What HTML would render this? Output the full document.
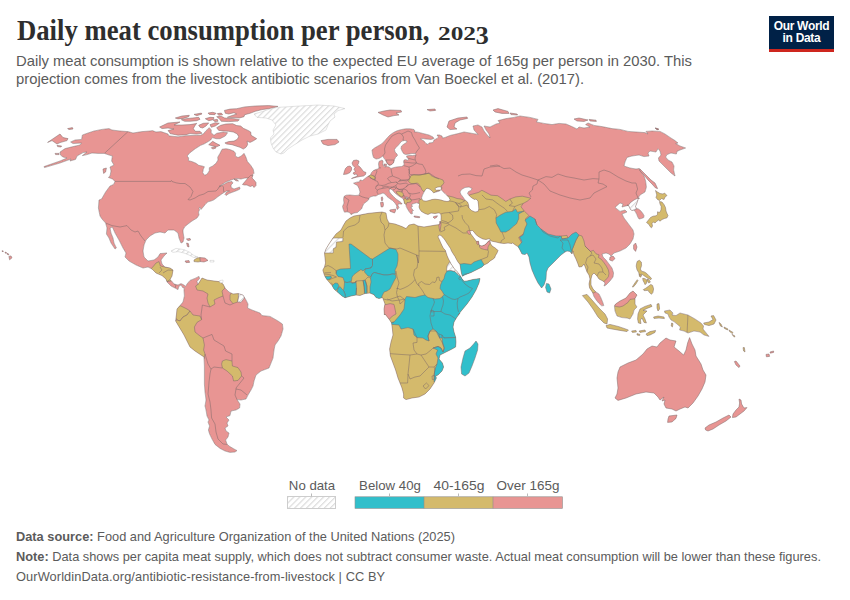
<!DOCTYPE html>
<html lang="en">
<head>
<meta charset="utf-8">
<title>Daily meat consumption per person, 2023</title>
<style>
  html,body{margin:0;padding:0;background:#fff;}
  body{width:850px;height:600px;position:relative;overflow:hidden;font-family:"Liberation Sans",sans-serif;}
  .abs{position:absolute;white-space:nowrap;}
  .ttl{top:13.7px;font-family:"Liberation Serif",serif;font-weight:bold;font-size:28.5px;line-height:34px;color:#2e2e2e;transform-origin:0 0;}
  #title{left:16.5px;transform:scaleX(0.9365);}
  #title2{left:437.5px;top:16.9px;font-size:19.5px;transform:scaleX(1.3);}
  #title2 span{display:inline-block;position:relative;top:4px;font-size:25px;line-height:25px;transform:scaleX(0.8);transform-origin:0 0;}
  #sub{left:16px;top:52.3px;font-size:14.8px;line-height:18px;color:#5b5b5b;}
  #logo{left:769px;top:16px;width:65px;height:33px;background:#002147;border-bottom:3px solid #ce261e;color:#fff;font-weight:bold;font-size:12px;line-height:12px;text-align:center;letter-spacing:-0.3px;}
  #logo span{display:block;}
  #logo span:first-child{margin-top:4.3px;}
  .foot{left:16px;font-size:12.8px;line-height:16px;color:#5b5b5b;}
  .foot b{font-weight:bold;}
  .leg{font-size:13px;line-height:14px;color:#5b5b5b;text-align:center;}
  svg{position:absolute;left:0;top:0;}
</style>
</head>
<body>
<div id="title" class="abs ttl">Daily meat consumption per person,</div>
<div id="title2" class="abs ttl">202<span>3</span></div>
<div id="sub" class="abs">Daily meat consumption is shown relative to the expected EU average of 165g per person in 2030. This<br>projection comes from the livestock antibiotic scenarios from Van Boeckel et al. (2017).</div>
<div id="logo" class="abs"><span>Our World</span><span>in Data</span></div>
<svg width="850" height="600" viewBox="0 0 850 600">
<defs><pattern id="hatch" width="4.2" height="4.2" patternUnits="userSpaceOnUse" patternTransform="rotate(45)"><rect width="4.2" height="4.2" fill="#fff"/><rect width="1.15" height="4.2" fill="#dbdbdb"/></pattern>
<clipPath id="c0"><path clip-rule="evenodd" d="M101.6,199 105.6,192 110,186 113.6,184.4 115,181.4 112.4,179 108.4,177.4 110,176 111,171 110,167 114,165 111.6,161 112.4,156 109,155 104.4,153.4 98,153.4 92,153 87,154.6 82.4,155.6 87,152 83,152.6 77,156 75.6,159.4 70,161 71,159 60,163 44.4,167.6 44,166.6 60,161 67,158 63,157 60.4,155 60,152 65,148.6 73,146.6 80,145 81.6,143 73,143.6 70.6,142 75,140 81.6,139.4 82.4,135 88,133 94,131 102,129.4 109,128.6 112,130 120,131 128,131.6 133,133 142,131.6 150,131 152.4,130.6 156,132 161,131.6 168,134 169,136 170,136 178,136.8 186,135.7 196.7,135.3 200.4,135.3 203.3,134 206,130.7 209.3,127.7 211.3,130 211.1,132.7 214,135.3 216.7,133.3 223.3,132 227.6,132.7 225.3,136 220,138.7 216,138.7 212.4,137.6 210.7,140 208.7,141.3 204,144 200.7,145.3 195.3,148.7 190,152.7 187.1,156 188.7,158 188.4,160.7 192,161.6 196,163.3 198.7,165.3 202,166 204.4,166.7 203.3,169.3 202.7,172.7 204.7,175.3 207.3,174 209.3,170.7 209.3,167.7 212.7,166 216,163.3 218,160 217.7,157.3 220,153.3 222,149.3 226,148.7 230,149.6 234,151.3 235.6,153.3 235.3,156 238,157.6 241.3,156 244,153.3 246,157.3 247.3,161.3 250.7,165.3 253.3,169.3 254,173.3 251.3,176 250,178 245,178 241,179 237,178.5 234,179 231,180 228,181 225,182.5 222,184.5 219,186.5 221.5,185.5 224.5,184 228,182 232,181.5 233,183 231,185 231.2,187.5 234,189 237,188 239.5,187 240,189 237,190.5 233,192 229,193.5 226,195.5 225,194.5 226.5,192 229.5,191 226.5,191 224,192.5 221,194.5 217.5,197 215,199 213.5,200 211,201 208,201.8 206,203.5 204,206 201,209.5 200,207 199,208 199.5,210 198.5,212 199,215 197,218 192,221 188,224 184.5,227 183,230 183,232 184,238 183,242 181,243 179,238 178,233 174,230 168,230 165,233 160,232 155,233 150,236 146,240 144,245 143,251 144,257 148,261 154,260 158,257 160,253.6 167,253 164,256 161,260 162,264 165,267 170,268 173,270 172,276 170,279.6 171.6,281 174,284 178,285 181,283.6 184,285 185.6,286.4 187,284 190,280.4 195,278.4 199,276.4 199.6,278.4 197,281.6 198,284.4 202,278 207,280 214,281 219,281.6 223,284 225,288 229,292 233,294 238,293.6 243,295 246,300 248,304 247.6,308 252,310 260,313 262,315.6 270,316.4 278,321 282.4,324 283,329 281,336 278,341 275,345 274,350 273,358 271,363 269,368 261,371 256,375 254,381 253,386 251,390 248,395 246,399 241,400 237,399.6 240,404 239.6,408 236,410 231,411 230,415.6 226,417 229,420 227,423 228,426 225,428 226,431 229,433 228,437 225.6,440 227,444 229,446 234,449 237,450.6 235,452 230,452.4 225,451 220,448.4 215,444.4 212,439 209.6,434 208.4,430 209.6,426 208,422 209,420 207,416 206,410 205,406 206,400 205,392 204.4,384 204.4,370 204.4,366 204,357 201,355 195,351 190,347 187,341 184,335 181,330 178,325 175.6,321 176.4,315 177,309 180,305.6 183,302 184.4,296 184,290 184.4,287.6 183,288 181,285 179,286 178,289.6 175,288 171,286 167,282 166,279 162,275.6 156,273 152,269 148,267 143,268 136,265 129,261 125,257 126,253 123,248 119,240 115,233 112.4,227 110,228 111,233 113,238 114,243 116.4,248 115,249 111,243 109,238 106.4,234 107,228 105.6,223 102,219 100,216 98.4,208 99,200Z"/></clipPath>
<clipPath id="c1"><path clip-rule="evenodd" d="M343.5,210 342.5,206.5 344,203 343.5,199.5 344,196.5 346,195.2 350,195 355,195.5 359,195.2 360,192 359,188.5 357.5,185.5 355,184.2 353.5,183.2 356.5,182.2 359.5,181.8 360,180 362.5,180.5 365,178.5 367,177 368.5,176 370.5,175 371.5,172.5 373.5,170.5 376,169.5 377.5,169 379,168 378.5,164 379,161.5 382,160 383,161 382.8,164 383.5,166 385,167 386.5,166.5 389,167 391,168.5 394,167.5 398,166.8 401.5,166.5 403.5,165.5 404.2,164 403.5,162 404,160 406,159.5 407.5,160.5 408.5,159 407,157.5 406.5,156 409,155.5 412.5,155.5 416,155 415.5,153.5 412,153.5 408,154.2 405.5,154.5 403.5,153.5 402,151 401,148.5 401.5,146 404,144 406.5,142.5 407,141 404.5,140.5 402,141 400,143 398.5,145 396,147.5 394.5,149.5 395,152 397,154 397.5,155.5 395.5,157.5 394.5,159.5 393.5,162 392,164 389.5,165.5 387.5,164 386.5,162 385,159.5 383.5,157.5 382.8,156 381.5,157 379,158.5 376,159 373.5,157.5 372.5,154 372,150 374.5,148 378,146 381.5,144 384.5,141 387.5,137.5 390,135 393.5,132.5 397,130.8 401.5,129.5 406,128.8 410,128.8 414,129.5 415,131 414,131.8 418,132.2 423,133.5 429,135 433,137 434,138.5 431,139.5 426,139 422,138.5 420.5,139 424,141 426,143.5 428,144.5 429,143 433,142.5 434,140 437,138.5 438.5,137 437,135 439.5,135 442,136 442.5,138 445,137.5 450,135.5 452,135 458,133.6 464,132 470,133 478,134.4 474,130 473,126 478,125 482,127 484,131 488,136 490,138 489,134 486,130 484,126 490,127 496,124 500,123 498,120.6 506,118.6 514,117.4 520,116 530,117.4 538,119.4 536.4,122 544,123.4 552,124.6 559,123.4 566,124 572,126.6 577,129 579,127 584,128 590,127 585.6,124.6 588,123 594,125.4 602,126.6 612,128.6 620,129.4 628,131.4 636,132 645,132.6 648,134 646,131.4 652,131 660,131.4 665,134 670,137.4 675,140.6 678,143 675.6,143.6 680,146 685.6,148 680,150 677,151.4 676.4,154 671,153 667,154.6 665.6,157 668,160 672,162 674,166 673.6,170 675,176 671,173 667,169 663,165 659,161 658.4,158 661,155 660,151 658,148.6 656,152 650,151 648,153 649,156 644,156.6 639,155 632,156 627,157.4 625,162 624,166 630,168 636,169 639,168.6 641,172 644,176 645.6,181 646.4,187 645,192 640,195 638,198 639.5,198 638,199.5 637.5,201.5 636.5,204 635.5,206.5 636.5,208.5 638.5,209 640.5,210.5 642.5,213 644,215.5 643.8,217.5 641.5,218.5 639,219 637.8,217 636.8,214.5 635.5,212 634,210 632,210.5 630.5,209.5 629.5,207.5 628.5,205.5 627,205 628,205.4 622,207 623,204 620,203 615,207.4 620,211.4 625,210 627,212 622,214 624,218 627,222 630,226 633,230 634,234 633,239 630,244 626,248 620,251 614,253 611,256 609,254 606,253 602,254 603,257 606,260 609,264 612,268 613.6,273 613,277 610,281 606,285 604,286 605,283 603,281 599,279 597,276 594,273 592,275 591,279 591,285 593,289 596,292 599,294 601,298 603,303 603.8,305.6 601.6,305.8 598.8,303.2 596,299.8 593.8,296.2 592.8,293 591.6,291 589.6,288 589,284 590,279 589,275 587,272 585.6,268 584,264 582,266.6 579,267 578,264 576,259 574,255 573,251 572,254 570,251.4 567,251 565,252 561,255 557,259 552,264 548,268 546.4,272 546,279 544,285 541.6,288 538,283 535,277 532,270 530,263 529,257 527,253 525,254.6 522,254 520,250 518,246.6 515.7,245.2 512.4,242.8 512,243.5 508,243 504,243.5 500,243 495,241.8 492,241.2 490.5,240.5 490,239 488.5,238.8 486,239.5 483,239 480,237.5 477.5,236 475.5,234 474,232 472.5,230.5 470,230.8 470,231.5 470.5,233.5 472,235.5 473.5,237.5 475,239.5 476,241.2 477,241.5 478.5,241.2 479,244 479.5,245.5 482,246 484.5,245 486.5,243.5 488,241.5 489.5,240.5 490,241.2 490.5,243.5 492,246 494.5,247.5 496.5,249 498,250.5 497,253 495.5,255.5 494.5,258 492.5,259.5 490,261 488,263 486,264 484,265 482,267 478,269 474,271 471,272.5 467,274 464.5,275 462.5,276.2 461.8,274.5 461,271 460.5,267 460,264.5 458,262 456.5,259.5 455,256.5 453,253.5 451.5,251 450.5,248.5 448.5,245.5 446.5,242.5 445,240 443,237.5 441.2,235.8 440,235 438.5,235.5 438,237 439.5,240 440.8,243 442.2,246 443.5,248.5 445.2,250 446.2,253 447.2,256 448.5,259 450,261.8 450.5,263 452.5,266 454.5,269 457,271.5 459,274 460.5,276.2 461.8,278.5 464,281.2 467,281 473,279.5 480,278.5 479,283 476,290 472,297 467,304 462,310 458,315 460,313 457,317 454,322 453,327 454,332 455.6,337 456,342 455.6,347 452,349 446,352 440,355 439,359 442.4,363 443.6,367 442,371 438,375 435.6,376 436.4,378 434,383 430,389 425,394 419,397 412,398 406,399.6 403.6,398 403.6,394 402,388 400,383 398,378 395.6,370 393,363 390.4,356 389.6,349 391,342 393,335 392.4,329 391.6,323 389,319 385,314 384.4,315 384,309 385,304 383.5,300 382.5,297.5 379,298.5 376,297.5 374,294.8 370,293 365,293.5 360,295.5 356,295 351,296 345,297.8 342,296 338,292.5 334,289 332,285.5 329,282 326.5,279 325,276.5 324,274 322.8,270 324.5,267 325.5,263 325,258 324.5,253 326,249 329,244 333,238 336,234 341,230 343.6,225 346,221 350,218 354,216 360,215 368,213.4 376,212.6 382,212 386,213 387,219 389,223 395,224 402,226.6 406,228.6 409,225 414,224 418,226 424,227 430,226 436,225 439.6,224.6 440,221 440.5,223.5 441,220.5 441.2,217 440.8,214 439,212.8 435,213.5 431,213 428,214.5 425,213.5 421.5,211.5 420,209.5 419,207 419.5,204.5 419,203.5 416.5,202.8 414,203.5 411.5,204.5 412.5,206.5 411,207 412,209 413.5,210.5 412,211 412.5,213.5 411,214 409,211.5 407.5,209 406.2,206.5 406,204.5 404.5,203.5 404,201 403,198.5 400,196.8 397.5,195 395.5,193.5 394,192 392.5,190 390.5,189 389,190 389.5,192 391,194 393.5,196.5 396,199 399,201 401.5,203 402,204 400,204 398.5,203.5 398,205.5 399,207.5 397.5,209.5 396.5,208 396.8,206 395,203 392.5,200.5 389.5,198.5 387,196.5 385,194 383,193 380.5,194 378.5,194.5 376,196 373.5,196 370,197 369,198.5 368.5,200 366,202 363.5,204 362.5,206.5 361.5,209 359,211 357.5,212.5 354,213 351,214.5 349.5,212.5 347,211.8 344.5,212.2Z M421.5,198 422.5,195 424,192 425.5,189.5 427,188.2 429,188.8 431,190 432.5,191.5 433.5,192.8 436,192 439,191.2 440.5,190.2 439,190 436.5,190.2 435.2,189.5 435,188.5 437,187.2 440,186.8 441.5,187.5 441,189.5 443,191.8 445,193.5 447,195.5 449,197.5 450,199.5 449.5,201 447,201.5 444,201 441,200 438,199.5 435,199.2 432,199.5 429,200.5 426,201.2 423.5,200.8 422,199.5Z M460,192 461.5,189.5 465,187.5 469,187 472,188.5 471,190.5 468.5,191.5 467.5,193.5 469.5,196 472,198 474.5,199.5 476,199 478,201 478.5,205 478.8,209 478,211.5 475,212 471.5,210.5 469,208 468.5,204.5 467.5,202 465,200 463,197 461,194.5Z"/></clipPath>
<clipPath id="c2"><path clip-rule="evenodd" d="M614.4,306 615.6,304 620,301 626,298 630,293 633,291 637,295 635,298.4 635,304 637,307 634,310 633,314 630,319 627,318 622,317.6 617,316 615,311Z"/></clipPath>
<clipPath id="c3"><path clip-rule="evenodd" d="M664.4,311 670,310 673,313 672,315 676,315.6 680,313 688,315 695,319 701,323 703.6,326 703,329 707,334 709,336.4 704,335 700,332 694,331 688,333 684,331 679.6,330 680.4,327 677,324 674,321.6 671,320 669,317 668,314 665,313Z"/></clipPath></defs>
<g clip-path="url(#c0)">
<path fill-rule="evenodd" d="M101.6,199 105.6,192 110,186 113.6,184.4 115,181.4 112.4,179 108.4,177.4 110,176 111,171 110,167 114,165 111.6,161 112.4,156 109,155 104.4,153.4 98,153.4 92,153 87,154.6 82.4,155.6 87,152 83,152.6 77,156 75.6,159.4 70,161 71,159 60,163 44.4,167.6 44,166.6 60,161 67,158 63,157 60.4,155 60,152 65,148.6 73,146.6 80,145 81.6,143 73,143.6 70.6,142 75,140 81.6,139.4 82.4,135 88,133 94,131 102,129.4 109,128.6 112,130 120,131 128,131.6 133,133 142,131.6 150,131 152.4,130.6 156,132 161,131.6 168,134 169,136 170,136 178,136.8 186,135.7 196.7,135.3 200.4,135.3 203.3,134 206,130.7 209.3,127.7 211.3,130 211.1,132.7 214,135.3 216.7,133.3 223.3,132 227.6,132.7 225.3,136 220,138.7 216,138.7 212.4,137.6 210.7,140 208.7,141.3 204,144 200.7,145.3 195.3,148.7 190,152.7 187.1,156 188.7,158 188.4,160.7 192,161.6 196,163.3 198.7,165.3 202,166 204.4,166.7 203.3,169.3 202.7,172.7 204.7,175.3 207.3,174 209.3,170.7 209.3,167.7 212.7,166 216,163.3 218,160 217.7,157.3 220,153.3 222,149.3 226,148.7 230,149.6 234,151.3 235.6,153.3 235.3,156 238,157.6 241.3,156 244,153.3 246,157.3 247.3,161.3 250.7,165.3 253.3,169.3 254,173.3 251.3,176 250,178 245,178 241,179 237,178.5 234,179 231,180 228,181 225,182.5 222,184.5 219,186.5 221.5,185.5 224.5,184 228,182 232,181.5 233,183 231,185 231.2,187.5 234,189 237,188 239.5,187 240,189 237,190.5 233,192 229,193.5 226,195.5 225,194.5 226.5,192 229.5,191 226.5,191 224,192.5 221,194.5 217.5,197 215,199 213.5,200 211,201 208,201.8 206,203.5 204,206 201,209.5 200,207 199,208 199.5,210 198.5,212 199,215 197,218 192,221 188,224 184.5,227 183,230 183,232 184,238 183,242 181,243 179,238 178,233 174,230 168,230 165,233 160,232 155,233 150,236 146,240 144,245 143,251 144,257 148,261 154,260 158,257 160,253.6 167,253 164,256 161,260 162,264 165,267 170,268 173,270 172,276 170,279.6 171.6,281 174,284 178,285 181,283.6 184,285 185.6,286.4 187,284 190,280.4 195,278.4 199,276.4 199.6,278.4 197,281.6 198,284.4 202,278 207,280 214,281 219,281.6 223,284 225,288 229,292 233,294 238,293.6 243,295 246,300 248,304 247.6,308 252,310 260,313 262,315.6 270,316.4 278,321 282.4,324 283,329 281,336 278,341 275,345 274,350 273,358 271,363 269,368 261,371 256,375 254,381 253,386 251,390 248,395 246,399 241,400 237,399.6 240,404 239.6,408 236,410 231,411 230,415.6 226,417 229,420 227,423 228,426 225,428 226,431 229,433 228,437 225.6,440 227,444 229,446 234,449 237,450.6 235,452 230,452.4 225,451 220,448.4 215,444.4 212,439 209.6,434 208.4,430 209.6,426 208,422 209,420 207,416 206,410 205,406 206,400 205,392 204.4,384 204.4,370 204.4,366 204,357 201,355 195,351 190,347 187,341 184,335 181,330 178,325 175.6,321 176.4,315 177,309 180,305.6 183,302 184.4,296 184,290 184.4,287.6 183,288 181,285 179,286 178,289.6 175,288 171,286 167,282 166,279 162,275.6 156,273 152,269 148,267 143,268 136,265 129,261 125,257 126,253 123,248 119,240 115,233 112.4,227 110,228 111,233 113,238 114,243 116.4,248 115,249 111,243 109,238 106.4,234 107,228 105.6,223 102,219 100,216 98.4,208 99,200Z" fill="#e89593"/>
<path d="M156,263 159,261.6 160.4,266 165,267 170,267.6 175,269 174,276 171,281 167,281.6 165,279.6 161,276.4 155,273.6 150,270 153.6,266Z" fill="#d4ba6c" stroke="#7d6868" stroke-width="0.5"/>
<path d="M198,284.4 201,276 207,279 214,280 219,280.4 224,283 225,288 222,291 223,296 218,298 214,300 215,304 210,307 208,303 207,298 208,294 203,291 197,290 195.6,286Z" fill="#d4ba6c" stroke="#7d6868" stroke-width="0.5"/>
<path d="M230,295 232,292 239,292 238.4,298 237.6,302 233,303.6 230,300Z" fill="#d4ba6c" stroke="#7d6868" stroke-width="0.5"/>
<path d="M238.4,292 245,293.6 244.4,298 241,302.4 237.6,302 238.4,298Z" fill="url(#hatch)" stroke="#7d6868" stroke-width="0.5"/>
<path d="M180,305.6 183,307 187,309 190,311 187,315 183,317 180,321 177,320 174,315 175,309Z" fill="#d4ba6c" stroke="#7d6868" stroke-width="0.5"/>
<path d="M180,321 183,317 187,315 190,311 193,315 200,316 201.6,319.6 197,322.4 194.4,327 195,332 200,336 203,338 204.4,345 203.6,350 205,354 204,359 199,356 193,352 188,348 185,341 182,335 179,330 176,325 173,321 177,320Z" fill="#d4ba6c" stroke="#7d6868" stroke-width="0.5"/>
<path d="M222.4,361 226,359.6 232,361 232.4,366 238,367.6 241,372 241.6,376 238,380.4 233.6,381 232.4,376 227,371 222.4,368 221.6,364Z" fill="#d4ba6c" stroke="#7d6868" stroke-width="0.5"/>
<path d="M128,131.6 104.4,153.4" fill="none" stroke="#7d6868" stroke-width="0.5"/>
<path d="M115,181.4 171,181.4 171.5,180.5 172,181.5 176,182.8 180,183.5 185,183.5 190,187 193,191.5 191,196.5 188,199.5 190,200 195,198 199,195.5 204,194 208,191.5 216,191 218,189 219,187 222,185.5 223.5,187 223.5,190 224,192.5" fill="none" stroke="#7d6868" stroke-width="0.5"/>
<path d="M105.6,223 112,225.6 120,227 127,225.6 131,230 135,232 138,231 141,236 145,241" fill="none" stroke="#7d6868" stroke-width="0.5"/>
<path d="M160,267 162,270 159,273" fill="none" stroke="#7d6868" stroke-width="0.5"/>
<path d="M163,273 168,270 174.4,270.4" fill="none" stroke="#7d6868" stroke-width="0.5"/>
<path d="M167,281.6 170,279.6" fill="none" stroke="#7d6868" stroke-width="0.5"/>
<path d="M175,288 176,285 174,284" fill="none" stroke="#7d6868" stroke-width="0.5"/>
<path d="M210,307 202.4,305 201,315 201.6,319.6" fill="none" stroke="#7d6868" stroke-width="0.5"/>
<path d="M203,338 212,334.4 214,340 224,346 225.6,351 232,354 232,361" fill="none" stroke="#7d6868" stroke-width="0.5"/>
<path d="M205,354 208,364 211,369 214,367 222.4,368" fill="none" stroke="#7d6868" stroke-width="0.5"/>
<path d="M211,369 210,374 209,382 208.4,390 208,394 210,402 211,410 211.6,418 215,424 216,432 218,439 223,444 227,444.4" fill="none" stroke="#7d6868" stroke-width="0.5"/>
<path d="M223,296 225,303 230,305 233,303.6" fill="none" stroke="#7d6868" stroke-width="0.5"/>
<path d="M241.6,376 244,378 240,383 236,388 236,389 241,390 247,395" fill="none" stroke="#7d6868" stroke-width="0.5"/>
<path d="M236,389 235,395 237,399.6" fill="none" stroke="#7d6868" stroke-width="0.5"/>
</g>
<path d="M101.6,199 105.6,192 110,186 113.6,184.4 115,181.4 112.4,179 108.4,177.4 110,176 111,171 110,167 114,165 111.6,161 112.4,156 109,155 104.4,153.4 98,153.4 92,153 87,154.6 82.4,155.6 87,152 83,152.6 77,156 75.6,159.4 70,161 71,159 60,163 44.4,167.6 44,166.6 60,161 67,158 63,157 60.4,155 60,152 65,148.6 73,146.6 80,145 81.6,143 73,143.6 70.6,142 75,140 81.6,139.4 82.4,135 88,133 94,131 102,129.4 109,128.6 112,130 120,131 128,131.6 133,133 142,131.6 150,131 152.4,130.6 156,132 161,131.6 168,134 169,136 170,136 178,136.8 186,135.7 196.7,135.3 200.4,135.3 203.3,134 206,130.7 209.3,127.7 211.3,130 211.1,132.7 214,135.3 216.7,133.3 223.3,132 227.6,132.7 225.3,136 220,138.7 216,138.7 212.4,137.6 210.7,140 208.7,141.3 204,144 200.7,145.3 195.3,148.7 190,152.7 187.1,156 188.7,158 188.4,160.7 192,161.6 196,163.3 198.7,165.3 202,166 204.4,166.7 203.3,169.3 202.7,172.7 204.7,175.3 207.3,174 209.3,170.7 209.3,167.7 212.7,166 216,163.3 218,160 217.7,157.3 220,153.3 222,149.3 226,148.7 230,149.6 234,151.3 235.6,153.3 235.3,156 238,157.6 241.3,156 244,153.3 246,157.3 247.3,161.3 250.7,165.3 253.3,169.3 254,173.3 251.3,176 250,178 245,178 241,179 237,178.5 234,179 231,180 228,181 225,182.5 222,184.5 219,186.5 221.5,185.5 224.5,184 228,182 232,181.5 233,183 231,185 231.2,187.5 234,189 237,188 239.5,187 240,189 237,190.5 233,192 229,193.5 226,195.5 225,194.5 226.5,192 229.5,191 226.5,191 224,192.5 221,194.5 217.5,197 215,199 213.5,200 211,201 208,201.8 206,203.5 204,206 201,209.5 200,207 199,208 199.5,210 198.5,212 199,215 197,218 192,221 188,224 184.5,227 183,230 183,232 184,238 183,242 181,243 179,238 178,233 174,230 168,230 165,233 160,232 155,233 150,236 146,240 144,245 143,251 144,257 148,261 154,260 158,257 160,253.6 167,253 164,256 161,260 162,264 165,267 170,268 173,270 172,276 170,279.6 171.6,281 174,284 178,285 181,283.6 184,285 185.6,286.4 187,284 190,280.4 195,278.4 199,276.4 199.6,278.4 197,281.6 198,284.4 202,278 207,280 214,281 219,281.6 223,284 225,288 229,292 233,294 238,293.6 243,295 246,300 248,304 247.6,308 252,310 260,313 262,315.6 270,316.4 278,321 282.4,324 283,329 281,336 278,341 275,345 274,350 273,358 271,363 269,368 261,371 256,375 254,381 253,386 251,390 248,395 246,399 241,400 237,399.6 240,404 239.6,408 236,410 231,411 230,415.6 226,417 229,420 227,423 228,426 225,428 226,431 229,433 228,437 225.6,440 227,444 229,446 234,449 237,450.6 235,452 230,452.4 225,451 220,448.4 215,444.4 212,439 209.6,434 208.4,430 209.6,426 208,422 209,420 207,416 206,410 205,406 206,400 205,392 204.4,384 204.4,370 204.4,366 204,357 201,355 195,351 190,347 187,341 184,335 181,330 178,325 175.6,321 176.4,315 177,309 180,305.6 183,302 184.4,296 184,290 184.4,287.6 183,288 181,285 179,286 178,289.6 175,288 171,286 167,282 166,279 162,275.6 156,273 152,269 148,267 143,268 136,265 129,261 125,257 126,253 123,248 119,240 115,233 112.4,227 110,228 111,233 113,238 114,243 116.4,248 115,249 111,243 109,238 106.4,234 107,228 105.6,223 102,219 100,216 98.4,208 99,200Z" fill="none" stroke="#7d6868" stroke-width="0.5" stroke-linejoin="round"/>
<g clip-path="url(#c1)">
<path fill-rule="evenodd" d="M343.5,210 342.5,206.5 344,203 343.5,199.5 344,196.5 346,195.2 350,195 355,195.5 359,195.2 360,192 359,188.5 357.5,185.5 355,184.2 353.5,183.2 356.5,182.2 359.5,181.8 360,180 362.5,180.5 365,178.5 367,177 368.5,176 370.5,175 371.5,172.5 373.5,170.5 376,169.5 377.5,169 379,168 378.5,164 379,161.5 382,160 383,161 382.8,164 383.5,166 385,167 386.5,166.5 389,167 391,168.5 394,167.5 398,166.8 401.5,166.5 403.5,165.5 404.2,164 403.5,162 404,160 406,159.5 407.5,160.5 408.5,159 407,157.5 406.5,156 409,155.5 412.5,155.5 416,155 415.5,153.5 412,153.5 408,154.2 405.5,154.5 403.5,153.5 402,151 401,148.5 401.5,146 404,144 406.5,142.5 407,141 404.5,140.5 402,141 400,143 398.5,145 396,147.5 394.5,149.5 395,152 397,154 397.5,155.5 395.5,157.5 394.5,159.5 393.5,162 392,164 389.5,165.5 387.5,164 386.5,162 385,159.5 383.5,157.5 382.8,156 381.5,157 379,158.5 376,159 373.5,157.5 372.5,154 372,150 374.5,148 378,146 381.5,144 384.5,141 387.5,137.5 390,135 393.5,132.5 397,130.8 401.5,129.5 406,128.8 410,128.8 414,129.5 415,131 414,131.8 418,132.2 423,133.5 429,135 433,137 434,138.5 431,139.5 426,139 422,138.5 420.5,139 424,141 426,143.5 428,144.5 429,143 433,142.5 434,140 437,138.5 438.5,137 437,135 439.5,135 442,136 442.5,138 445,137.5 450,135.5 452,135 458,133.6 464,132 470,133 478,134.4 474,130 473,126 478,125 482,127 484,131 488,136 490,138 489,134 486,130 484,126 490,127 496,124 500,123 498,120.6 506,118.6 514,117.4 520,116 530,117.4 538,119.4 536.4,122 544,123.4 552,124.6 559,123.4 566,124 572,126.6 577,129 579,127 584,128 590,127 585.6,124.6 588,123 594,125.4 602,126.6 612,128.6 620,129.4 628,131.4 636,132 645,132.6 648,134 646,131.4 652,131 660,131.4 665,134 670,137.4 675,140.6 678,143 675.6,143.6 680,146 685.6,148 680,150 677,151.4 676.4,154 671,153 667,154.6 665.6,157 668,160 672,162 674,166 673.6,170 675,176 671,173 667,169 663,165 659,161 658.4,158 661,155 660,151 658,148.6 656,152 650,151 648,153 649,156 644,156.6 639,155 632,156 627,157.4 625,162 624,166 630,168 636,169 639,168.6 641,172 644,176 645.6,181 646.4,187 645,192 640,195 638,198 639.5,198 638,199.5 637.5,201.5 636.5,204 635.5,206.5 636.5,208.5 638.5,209 640.5,210.5 642.5,213 644,215.5 643.8,217.5 641.5,218.5 639,219 637.8,217 636.8,214.5 635.5,212 634,210 632,210.5 630.5,209.5 629.5,207.5 628.5,205.5 627,205 628,205.4 622,207 623,204 620,203 615,207.4 620,211.4 625,210 627,212 622,214 624,218 627,222 630,226 633,230 634,234 633,239 630,244 626,248 620,251 614,253 611,256 609,254 606,253 602,254 603,257 606,260 609,264 612,268 613.6,273 613,277 610,281 606,285 604,286 605,283 603,281 599,279 597,276 594,273 592,275 591,279 591,285 593,289 596,292 599,294 601,298 603,303 603.8,305.6 601.6,305.8 598.8,303.2 596,299.8 593.8,296.2 592.8,293 591.6,291 589.6,288 589,284 590,279 589,275 587,272 585.6,268 584,264 582,266.6 579,267 578,264 576,259 574,255 573,251 572,254 570,251.4 567,251 565,252 561,255 557,259 552,264 548,268 546.4,272 546,279 544,285 541.6,288 538,283 535,277 532,270 530,263 529,257 527,253 525,254.6 522,254 520,250 518,246.6 515.7,245.2 512.4,242.8 512,243.5 508,243 504,243.5 500,243 495,241.8 492,241.2 490.5,240.5 490,239 488.5,238.8 486,239.5 483,239 480,237.5 477.5,236 475.5,234 474,232 472.5,230.5 470,230.8 470,231.5 470.5,233.5 472,235.5 473.5,237.5 475,239.5 476,241.2 477,241.5 478.5,241.2 479,244 479.5,245.5 482,246 484.5,245 486.5,243.5 488,241.5 489.5,240.5 490,241.2 490.5,243.5 492,246 494.5,247.5 496.5,249 498,250.5 497,253 495.5,255.5 494.5,258 492.5,259.5 490,261 488,263 486,264 484,265 482,267 478,269 474,271 471,272.5 467,274 464.5,275 462.5,276.2 461.8,274.5 461,271 460.5,267 460,264.5 458,262 456.5,259.5 455,256.5 453,253.5 451.5,251 450.5,248.5 448.5,245.5 446.5,242.5 445,240 443,237.5 441.2,235.8 440,235 438.5,235.5 438,237 439.5,240 440.8,243 442.2,246 443.5,248.5 445.2,250 446.2,253 447.2,256 448.5,259 450,261.8 450.5,263 452.5,266 454.5,269 457,271.5 459,274 460.5,276.2 461.8,278.5 464,281.2 467,281 473,279.5 480,278.5 479,283 476,290 472,297 467,304 462,310 458,315 460,313 457,317 454,322 453,327 454,332 455.6,337 456,342 455.6,347 452,349 446,352 440,355 439,359 442.4,363 443.6,367 442,371 438,375 435.6,376 436.4,378 434,383 430,389 425,394 419,397 412,398 406,399.6 403.6,398 403.6,394 402,388 400,383 398,378 395.6,370 393,363 390.4,356 389.6,349 391,342 393,335 392.4,329 391.6,323 389,319 385,314 384.4,315 384,309 385,304 383.5,300 382.5,297.5 379,298.5 376,297.5 374,294.8 370,293 365,293.5 360,295.5 356,295 351,296 345,297.8 342,296 338,292.5 334,289 332,285.5 329,282 326.5,279 325,276.5 324,274 322.8,270 324.5,267 325.5,263 325,258 324.5,253 326,249 329,244 333,238 336,234 341,230 343.6,225 346,221 350,218 354,216 360,215 368,213.4 376,212.6 382,212 386,213 387,219 389,223 395,224 402,226.6 406,228.6 409,225 414,224 418,226 424,227 430,226 436,225 439.6,224.6 440,221 440.5,223.5 441,220.5 441.2,217 440.8,214 439,212.8 435,213.5 431,213 428,214.5 425,213.5 421.5,211.5 420,209.5 419,207 419.5,204.5 419,203.5 416.5,202.8 414,203.5 411.5,204.5 412.5,206.5 411,207 412,209 413.5,210.5 412,211 412.5,213.5 411,214 409,211.5 407.5,209 406.2,206.5 406,204.5 404.5,203.5 404,201 403,198.5 400,196.8 397.5,195 395.5,193.5 394,192 392.5,190 390.5,189 389,190 389.5,192 391,194 393.5,196.5 396,199 399,201 401.5,203 402,204 400,204 398.5,203.5 398,205.5 399,207.5 397.5,209.5 396.5,208 396.8,206 395,203 392.5,200.5 389.5,198.5 387,196.5 385,194 383,193 380.5,194 378.5,194.5 376,196 373.5,196 370,197 369,198.5 368.5,200 366,202 363.5,204 362.5,206.5 361.5,209 359,211 357.5,212.5 354,213 351,214.5 349.5,212.5 347,211.8 344.5,212.2Z M421.5,198 422.5,195 424,192 425.5,189.5 427,188.2 429,188.8 431,190 432.5,191.5 433.5,192.8 436,192 439,191.2 440.5,190.2 439,190 436.5,190.2 435.2,189.5 435,188.5 437,187.2 440,186.8 441.5,187.5 441,189.5 443,191.8 445,193.5 447,195.5 449,197.5 450,199.5 449.5,201 447,201.5 444,201 441,200 438,199.5 435,199.2 432,199.5 429,200.5 426,201.2 423.5,200.8 422,199.5Z M460,192 461.5,189.5 465,187.5 469,187 472,188.5 471,190.5 468.5,191.5 467.5,193.5 469.5,196 472,198 474.5,199.5 476,199 478,201 478.5,205 478.8,209 478,211.5 475,212 471.5,210.5 469,208 468.5,204.5 467.5,202 465,200 463,197 461,194.5Z" fill="#e89593"/>
<path d="M419,204.2 419,200 421.2,199.3 425,195 443,194 446.5,195.5 449.5,196.2 453,197 457,198.5 461,199 464.5,200.5 469.5,194.9 478.6,192.4 481.9,190.3 486,192.4 491,195.2 497.6,195.7 502.5,199 505.8,201.5 509.9,199 515.7,196.9 522.3,196.2 530.9,198.2 527.3,201.2 523.1,203.5 521,206.8 524.3,211.1 528.9,215.5 525.6,218.8 527.3,223 526.4,227.9 524.8,232.9 521.5,235.3 518.7,237.5 520.7,241.1 522.3,244.4 520.2,246.7 521.5,254.3 502.5,277.4 490,325 480,290 480,410 380,410 310,315 310,215 340,214.4 363,214 384,209.4 401,225 415,220 417.2,209 418.2,205Z" fill="#d4ba6c" stroke="#7d6868" stroke-width="0.5"/>
<path d="M408.5,181.5 410.5,176 414,174.5 419,175 423.5,174.2 429,173.2 431,175.5 435,177.5 439,178.5 443,180 444,182.5 443,184.5 441,186 442,188 440.5,190.5 437,191 433.5,193.5 431,191.2 428.5,189.5 427,189 425.5,190 424,191.8 422,190 420.5,186.5 418.5,184 417.5,183 414,183.5 411,183.5Z" fill="#d4ba6c" stroke="#7d6868" stroke-width="0.5"/>
<path d="M368.5,176 370.5,174.8 373.5,175.8 375,177.5 375,179.5 372.5,179 370,177.5Z" fill="#d4ba6c" stroke="#7d6868" stroke-width="0.5"/>
<path d="M396,191.8 398,191.2 401,191.8 403,193 403.5,195 402,197.2 400,196 397.5,194Z" fill="#d4ba6c" stroke="#7d6868" stroke-width="0.5"/>
<path d="M403.5,199.2 405.5,198.5 406.8,200 409.5,198.8 411.5,200 411,201.8 408.5,202.5 407,202.5 406.2,204.5 404.8,204.2 403.8,201.5Z" fill="#d4ba6c" stroke="#7d6868" stroke-width="0.5"/>
<path d="M406,197 407.8,197.2 407.8,198.8 406.2,198.8Z" fill="url(#hatch)" stroke="#7d6868" stroke-width="0.5"/>
<path d="M570,253 572.4,249 574,245 576,240 579,235 582,236 584,241 585,246 589,250 590.6,251.4 593.4,250.4 596,253.8 599.1,254.9 598.4,257.5 601.2,259.2 604,262.7 606.4,266.2 608.3,269.8 609,273.3 608.3,276.9 605.5,280.1 603.3,282.1 601.9,287.5 595.5,292 592,293.4 587.7,292.5 583.5,290.3 576,271Z" fill="#d4ba6c" stroke="#7d6868" stroke-width="0.5"/>
<path d="M561,236 567,235.4 568,238 562,239Z" fill="#d4ba6c" stroke="#7d6868" stroke-width="0.5"/>
<path d="M495.9,218 500.9,214.7 505.8,212.2 512.4,211.4 515.7,208.9 517.4,212.2 524,211.1 518.7,213.9 518.7,218.8 516.5,223.8 512.4,227.1 509.9,229.6 505.8,232 500.9,232 498.9,227.9 496.2,223Z" fill="#31bfcb" stroke="#7d6868" stroke-width="0.5"/>
<path d="M525,220 530,216 535,219 537,225 541,229 548,234 556,236 561,236 562,239 568,238 572,234 576,232 579,235 576,240 574,245 572.4,249 571,255 578,275 550,299 530,285 518,255 518,246.6 522,242 519.6,237 523,235 525,228 527,224Z" fill="#31bfcb" stroke="#7d6868" stroke-width="0.5"/>
<path d="M459,264 461,264 464,263.5 468,264 471,264.5 474,262 478,260.5 481.2,259.5 482.5,262 484.5,265.5 480,275 470,280 460,280Z" fill="#31bfcb" stroke="#7d6868" stroke-width="0.5"/>
<path d="M349,244 351,244 370.5,258.5 372.5,259 372.5,265.5 371,268 365,269 363,271 361,269.5 358,271.5 354,274.5 352,277 351.5,280.5 350,282 347,282.5 344.5,282 343,277.5 340.5,277 338,276.5 336,273.5 336.5,270.5 340.5,269 350.5,268.5Z" fill="#31bfcb" stroke="#7d6868" stroke-width="0.5"/>
<path d="M372.5,259 390,248 396,249.5 398,254 398,260 397,266 395,270 395.5,274 392.5,274 388,275 384,275 378,273.5 374.5,272.5 372.5,273.5 371,276.5 368,276 364.5,272 365,269 371,268 372.5,265.5Z" fill="#31bfcb" stroke="#7d6868" stroke-width="0.5"/>
<path d="M372.5,273.5 374.5,272.5 378,273.5 384,275 388,275 392.5,274 395.5,274.5 396,277.5 394,281 392,285 390,289 387,291 384,292 382,296 381,302 374,302 374,294.5 370,294 370,287 371,282 370.5,278 371,276.5Z" fill="#31bfcb" stroke="#7d6868" stroke-width="0.5"/>
<path d="M363,280.5 365,280 365.8,282 366.8,286 367,296 364.6,296 364.2,287 363.5,283Z" fill="#31bfcb" stroke="#7d6868" stroke-width="0.5"/>
<path d="M344.5,282 347,282.5 350,282 352,283 355.5,282.5 356,281 356.5,288 356,298 345,300 345,294 343.5,290.5 344.2,286Z" fill="#31bfcb" stroke="#7d6868" stroke-width="0.5"/>
<path d="M338,288 340,286.5 342,289 343.5,290.5 345,294 345.5,300 336,294 337.5,290.5Z" fill="#31bfcb" stroke="#7d6868" stroke-width="0.5"/>
<path d="M333,285 335,283 337.5,283.2 338.8,285.5 338,288 336,290.5 332,290 331,287Z" fill="#31bfcb" stroke="#7d6868" stroke-width="0.5"/>
<path d="M323,276.5 331,276.2 331.5,277.8 329,279.5 326,280Z" fill="#31bfcb" stroke="#7d6868" stroke-width="0.5"/>
<path d="M404.5,300 406.5,296.5 411,297 415,297.5 420,296 425,295 428,297.5 433,298.5 435,299 440,298.5 442.5,296.5 444,294.5 442,291 440,288.5 440.5,285 442,281.5 444,278.5 445,274.5 447,271 451,270.5 455,271.5 459,275.5 461.2,276.2 465,274 490,270 490,325 480,337 444,338 439.6,338 436,331 433,329 430,331 428,336 429,341 426,340 423,338 417,337.6 414,335 413,329 408,327.6 401,329 399,325 392,324.4 388,323 394,322 400,315 404,309 405,300Z" fill="#31bfcb" stroke="#7d6868" stroke-width="0.5"/>
<path d="M444,338 468,337 460,380 434,382 434,376 435,369 437,364 438,358 436,354 437.6,350 433,348 438,346.4 441,348 443,352 444.4,348 442.4,342 442,335Z" fill="#31bfcb" stroke="#7d6868" stroke-width="0.5"/>
<path d="M322,253 325,248 330,241 333,238 343,238 342.8,241.5 336.5,242 336,247.5 333.5,248.5 333.2,253Z" fill="url(#hatch)" stroke="#7d6868" stroke-width="0.5"/>
<path d="M446.5,270.8 447,266 449.5,262 453,263 455,268 458,272 461,275 461.8,276.5 459,275.5 455,271.5 451,270.5Z" fill="url(#hatch)" stroke="#7d6868" stroke-width="0.5"/>
<path d="M628.5,205 630.5,202.5 634,200 637,198.5 639.5,198.5 638.5,201.5 637.2,204 636.2,206.5 637.2,208.8 635,209.7 634,210.2 632,211 630,210 628.8,207.5Z" fill="url(#hatch)" stroke="#7d6868" stroke-width="0.5"/>
<path d="M438.8,223 440.5,220.8 441.2,222.5 441,225 440.5,228 440,231.5 439.2,228.5 438.8,225.5Z" fill="#e89593" stroke="#7d6868" stroke-width="0.5"/>
<path d="M466.8,231.5 468.5,230.5 470.2,230.5 471,233.5 469.5,234.5 467.8,233.5Z" fill="#e89593" stroke="#7d6868" stroke-width="0.5"/>
<path d="M476.8,240.8 478.7,240.6 479,244 477.8,244.8 476.8,243.5Z" fill="#e89593" stroke="#7d6868" stroke-width="0.5"/>
<path d="M479.5,245 482,245.8 484.5,244.8 486.5,243.3 488,241.2 490,240 490.2,243 489,245 488,247 487.8,250 484.5,249.5 481,248.5 479.5,247.2Z" fill="#e89593" stroke="#7d6868" stroke-width="0.5"/>
<path d="M381,305 387,304.4 390,303.6 394,304.4 395,309 396,314 392.4,316 389,319.6 384,315 381,309Z" fill="#e89593" stroke="#7d6868" stroke-width="0.5"/>
<path d="M490,166 497,165 504,168.6 510,168 516,172 522,175 530,177.4 538,180" fill="none" stroke="#7d6868" stroke-width="0.5"/>
<path d="M538,180 537,184 533,186 532.4,190 529,193 531,197" fill="none" stroke="#7d6868" stroke-width="0.5"/>
<path d="M538,180 546,176.6 552,177.4 558,174 566,176.6 574,178 584,180 593,178.6 599,179" fill="none" stroke="#7d6868" stroke-width="0.5"/>
<path d="M538,180 544,184 550,191 560,195 570,198 580,200 590,198 594,193 602,189 607,186.6 603,184 598,183 599,179" fill="none" stroke="#7d6868" stroke-width="0.5"/>
<path d="M599,179 599,172 604,170 610,172 618,177 626,181 632,183 636,183 637.6,189 636,193 638,198" fill="none" stroke="#7d6868" stroke-width="0.5"/>
<path d="M458,176 462,174.4 470,174 476,175.6 482,176 484,169 490,167 500,166" fill="none" stroke="#7d6868" stroke-width="0.5"/>
<path d="M688,315 687,333" fill="none" stroke="#7d6868" stroke-width="0.5"/>
<path d="M344,196.5 346.5,198.5 349,200 348,203 347,206.5 347.5,209.5 347,211.8" fill="none" stroke="#7d6868" stroke-width="0.5"/>
<path d="M359,195.2 362,196.8 365.5,197.8 369,198.5" fill="none" stroke="#7d6868" stroke-width="0.5"/>
<path d="M368.5,176 370,177.5 372.5,179 375,180.5 377.5,181.5 378.5,184 376,186.5 375.5,188.5 377.5,190 376.8,192 378.5,194.5" fill="none" stroke="#7d6868" stroke-width="0.5"/>
<path d="M376,186.5 378.5,185 382,185.5 383.5,187 382,188.5 379,189.2 377.5,190" fill="none" stroke="#7d6868" stroke-width="0.5"/>
<path d="M373.5,170.5 376,169.5 377,171 376,174 375,176.5 373.5,175.8" fill="none" stroke="#7d6868" stroke-width="0.5"/>
<path d="M375.5,176.5 375,179.5 375.5,180.5" fill="none" stroke="#7d6868" stroke-width="0.5"/>
<path d="M379,168 381,167.8" fill="none" stroke="#7d6868" stroke-width="0.5"/>
<path d="M391,168.5 391.5,172 392.5,176 389.5,177 387.5,178.5 389.5,181 391.5,182.5 388,183.5 385,185 382,185.5" fill="none" stroke="#7d6868" stroke-width="0.5"/>
<path d="M383.5,187 386,186.2 389.5,187 392.5,187.2 396,185.5 397.5,183.5 396,182 393,182.5 391.5,182.5" fill="none" stroke="#7d6868" stroke-width="0.5"/>
<path d="M392.5,176 395,177 399,178.5 401,180 399,181 397.5,182.5 396,182" fill="none" stroke="#7d6868" stroke-width="0.5"/>
<path d="M401,180 405,180 408.5,179.5 410,177.5 409,175 409.5,172 408.5,169" fill="none" stroke="#7d6868" stroke-width="0.5"/>
<path d="M399,181 403,180.5 407,181 408.5,179.5" fill="none" stroke="#7d6868" stroke-width="0.5"/>
<path d="M397.5,183.5 400,184 403,183.5 406.5,183 408,184.5 406,187 403,189 399,189.5 396.5,188 396,185.5" fill="none" stroke="#7d6868" stroke-width="0.5"/>
<path d="M382,188.5 385,188 388,187.5 390.5,189" fill="none" stroke="#7d6868" stroke-width="0.5"/>
<path d="M390.5,189 391,187.5 394,187 396,188 394.5,189.5 392.5,190" fill="none" stroke="#7d6868" stroke-width="0.5"/>
<path d="M396.5,188 399,189.5 401.5,190 403,191 401,191.8" fill="none" stroke="#7d6868" stroke-width="0.5"/>
<path d="M401.5,190 404,189 406.5,190 408.5,193 410.5,195 409.5,197.5 407,198.5 405,196.5 403.5,195" fill="none" stroke="#7d6868" stroke-width="0.5"/>
<path d="M406,187 409,184.5 413,184 416,183.5 418,185 420,187" fill="none" stroke="#7d6868" stroke-width="0.5"/>
<path d="M408.5,193 412,194 416,193.5 420,192.5" fill="none" stroke="#7d6868" stroke-width="0.5"/>
<path d="M403.5,195 404,197.2 405,198.5" fill="none" stroke="#7d6868" stroke-width="0.5"/>
<path d="M411.5,200 415,199.5 420,198.5" fill="none" stroke="#7d6868" stroke-width="0.5"/>
<path d="M409.5,197.5 411.5,200" fill="none" stroke="#7d6868" stroke-width="0.5"/>
<path d="M382.8,156 385,153 384.5,149 385.5,145 389,140 392,136 396,134 399,133 401.5,134 403.5,137 403,140 404.5,140.5" fill="none" stroke="#7d6868" stroke-width="0.5"/>
<path d="M401.5,134 405,132.5 408,131 410.5,132 411.5,132.5 412.5,136 415,140 417,144 419.5,148 417,151 415.5,153.5" fill="none" stroke="#7d6868" stroke-width="0.5"/>
<path d="M416,155 415,158 415.5,160.5 416.5,163 419,164 422.5,164.5 425,169 426,172 425,174" fill="none" stroke="#7d6868" stroke-width="0.5"/>
<path d="M407.5,158 411,159 415,160" fill="none" stroke="#7d6868" stroke-width="0.5"/>
<path d="M404,162 408,162.5 412,163 416.5,163" fill="none" stroke="#7d6868" stroke-width="0.5"/>
<path d="M403.5,165.5 406,166.2 409,167 412,166 414.5,164.5 416.5,163" fill="none" stroke="#7d6868" stroke-width="0.5"/>
<path d="M409,167 409.5,170 409,173 410.5,174.5 415,175 421,174.8 425,174" fill="none" stroke="#7d6868" stroke-width="0.5"/>
<path d="M425,174 429,173 431.5,174.5 435,177 439,179" fill="none" stroke="#7d6868" stroke-width="0.5"/>
<path d="M360,215 359,222 355,225 348,227 343.6,231 343,237.4" fill="none" stroke="#7d6868" stroke-width="0.5"/>
<path d="M324.5,267 328,265.5 332,267.5 336,270.5 336.5,273.5" fill="none" stroke="#7d6868" stroke-width="0.5"/>
<path d="M324,274 329,274.5 333,275.5 336.5,277" fill="none" stroke="#7d6868" stroke-width="0.5"/>
<path d="M324.5,272.8 331,272.6" fill="none" stroke="#7d6868" stroke-width="0.5"/>
<path d="M329,280 332,278.5 336.5,277" fill="none" stroke="#7d6868" stroke-width="0.5"/>
<path d="M331,282.5 333,285" fill="none" stroke="#7d6868" stroke-width="0.5"/>
<path d="M356,281 363,280.5" fill="none" stroke="#7d6868" stroke-width="0.5"/>
<path d="M356.5,288 356,294.5" fill="none" stroke="#7d6868" stroke-width="0.5"/>
<path d="M364.8,293 364.2,287 363.5,283 363,280.5" fill="none" stroke="#7d6868" stroke-width="0.5"/>
<path d="M365,280 368,277 370.5,278" fill="none" stroke="#7d6868" stroke-width="0.5"/>
<path d="M367,292.5 367,286 365.8,282 365,280" fill="none" stroke="#7d6868" stroke-width="0.5"/>
<path d="M351,280.5 352,283 355.5,282.5 356,281" fill="none" stroke="#7d6868" stroke-width="0.5"/>
<path d="M382,212 380,217 381,222 384,225 385,230 384,235 385,243 389,248 397,249" fill="none" stroke="#7d6868" stroke-width="0.5"/>
<path d="M385,230 388,227 389,223" fill="none" stroke="#7d6868" stroke-width="0.5"/>
<path d="M418,226 419,251 446,251.4" fill="none" stroke="#7d6868" stroke-width="0.5"/>
<path d="M397,249 400,248 419,256 419,251" fill="none" stroke="#7d6868" stroke-width="0.5"/>
<path d="M419,256 418.4,263 416.5,255 417.5,258 417.8,263 417,268 414.5,269.5 413.5,275 415,279.5 412,283 408,286 404,288 400,289.5 397.5,288 396.5,292.5 397.5,297 399.5,301 400,304 404.5,300" fill="none" stroke="#7d6868" stroke-width="0.5"/>
<path d="M415,279.5 417,284 419,286 422,290 425,295" fill="none" stroke="#7d6868" stroke-width="0.5"/>
<path d="M419,286 418.5,283.5 421.5,281.5 425,284 429.5,284.5 432.5,282 435,282.5 436.5,280 436.8,277.5 439,277 439.5,280.5 442,281.5" fill="none" stroke="#7d6868" stroke-width="0.5"/>
<path d="M396,271 397,277 399,283 397,289 397.5,288" fill="none" stroke="#7d6868" stroke-width="0.5"/>
<path d="M387,299 392,301 400,300 404,299" fill="none" stroke="#7d6868" stroke-width="0.5"/>
<path d="M461.8,280 465,284 469,287 472.5,288.5 469,293 465,295 460,297 458,298.5 457.2,303 457.5,308 458.5,312" fill="none" stroke="#7d6868" stroke-width="0.5"/>
<path d="M444,294.5 448,297 452,299 455,299.5 458,298.5" fill="none" stroke="#7d6868" stroke-width="0.5"/>
<path d="M442.5,296.5 443.5,301 443,305 441.5,309 441,311.5" fill="none" stroke="#7d6868" stroke-width="0.5"/>
<path d="M433,298.5 434.5,302 433.5,305 432,308 431,312 435,311.5 441,311.5 445,314 450,315 456,319" fill="none" stroke="#7d6868" stroke-width="0.5"/>
<path d="M459,277.5 461,276.5 461.8,278.5 460,280 458.8,279 459,277.5" fill="none" stroke="#7d6868" stroke-width="0.5"/>
<path d="M431,310 430,316 431,323 433,329" fill="none" stroke="#7d6868" stroke-width="0.5"/>
<path d="M431,310 434,311 434,316 431,316" fill="none" stroke="#7d6868" stroke-width="0.5"/>
<path d="M436,331 439,334 442,335" fill="none" stroke="#7d6868" stroke-width="0.5"/>
<path d="M439,334 439.6,338 442,342 444,348 443,352" fill="none" stroke="#7d6868" stroke-width="0.5"/>
<path d="M413,343 414,350 417,354" fill="none" stroke="#7d6868" stroke-width="0.5"/>
<path d="M389.6,353.6 400,354.4 410,355 417,354 421,355 426,354 431,350 433,348" fill="none" stroke="#7d6868" stroke-width="0.5"/>
<path d="M410,355 409,365 408,374 407.6,383 400,383" fill="none" stroke="#7d6868" stroke-width="0.5"/>
<path d="M408,374 410,379 415,377 420,376 426,370 429,367 425,361 421,355" fill="none" stroke="#7d6868" stroke-width="0.5"/>
<path d="M429,367 434,367 437,364" fill="none" stroke="#7d6868" stroke-width="0.5"/>
<path d="M434,367 435,369 434,376" fill="none" stroke="#7d6868" stroke-width="0.5"/>
<path d="M432,376 434.4,375.6 435,379 432.4,379.6 432,376" fill="none" stroke="#7d6868" stroke-width="0.5"/>
<path d="M423,386 426.4,383 429,385.6 425.6,389 423,386" fill="none" stroke="#7d6868" stroke-width="0.5"/>
<path d="M383,299 388,300 394,298 400,296 405,300" fill="none" stroke="#7d6868" stroke-width="0.5"/>
<path d="M391.6,323 394,322" fill="none" stroke="#7d6868" stroke-width="0.5"/>
<path d="M413,329 417,337.6" fill="none" stroke="#7d6868" stroke-width="0.5"/>
<path d="M429,341 428,336 430,331 436,331" fill="none" stroke="#7d6868" stroke-width="0.5"/>
<path d="M433,348 438,346.4 441,348 443,352" fill="none" stroke="#7d6868" stroke-width="0.5"/>
<path d="M417,337.6 417,342.4 413,343" fill="none" stroke="#7d6868" stroke-width="0.5"/>
<path d="M440.5,214 444,213 449,212.5 455,211.5 458.5,211 459,208 458,205 455.5,202.5 453,201.5 449.5,201" fill="none" stroke="#7d6868" stroke-width="0.5"/>
<path d="M455.5,202.5 459,203.5 462,202.5 465,200.5" fill="none" stroke="#7d6868" stroke-width="0.5"/>
<path d="M455.5,202.5 457,205 460,207 461.5,206 459,203.5" fill="none" stroke="#7d6868" stroke-width="0.5"/>
<path d="M460,207 464,206 467,205 468.8,208" fill="none" stroke="#7d6868" stroke-width="0.5"/>
<path d="M449,212.5 452.5,215 453,219 451,221 447,223.5 442,222.5" fill="none" stroke="#7d6868" stroke-width="0.5"/>
<path d="M462,215 462.5,218.5 465,222.5 468.5,226 469.5,230" fill="none" stroke="#7d6868" stroke-width="0.5"/>
<path d="M440.5,232 445,230 444,227.5 449,224.5 456,228 463,233 466.8,233" fill="none" stroke="#7d6868" stroke-width="0.5"/>
<path d="M449,224.5 447,222 442,220.5" fill="none" stroke="#7d6868" stroke-width="0.5"/>
<path d="M481.2,259.5 487.5,257 488.5,251.5 487.8,250" fill="none" stroke="#7d6868" stroke-width="0.5"/>
<path d="M502,232 504.5,238.5 501.5,240.5 500.5,243.5" fill="none" stroke="#7d6868" stroke-width="0.5"/>
<path d="M478.6,209.8 484.4,208.9 489.3,206.5 494.3,209.8 496.7,214.7 495.9,218" fill="none" stroke="#7d6868" stroke-width="0.5"/>
<path d="M481.9,194.9 486,199 492.6,199.9 499.2,204.8 504.2,208.1 507.5,211.4" fill="none" stroke="#7d6868" stroke-width="0.5"/>
<path d="M509.9,199 512.4,203.2 509.1,205.6 514.9,206.5 519,204.8 523.1,203.5" fill="none" stroke="#7d6868" stroke-width="0.5"/>
<path d="M512.4,211.4 514.9,206.5" fill="none" stroke="#7d6868" stroke-width="0.5"/>
<path d="M541,229 543,232 550,236 558,238 560,236" fill="none" stroke="#7d6868" stroke-width="0.5"/>
<path d="M560,240 563,243 562,248 565,252" fill="none" stroke="#7d6868" stroke-width="0.5"/>
<path d="M560,240 568,240 570,245 571,250 573,251" fill="none" stroke="#7d6868" stroke-width="0.5"/>
<path d="M585,246 589,250 592,253 590,256 587,258 585.6,263 588,267 587,272" fill="none" stroke="#7d6868" stroke-width="0.5"/>
<path d="M590,256 593,255 596,259 594,263 599,264 602,268 603,272 599,272 597,276" fill="none" stroke="#7d6868" stroke-width="0.5"/>
<path d="M603,272 606,275" fill="none" stroke="#7d6868" stroke-width="0.5"/>
<path d="M537,225 535,219" fill="none" stroke="#7d6868" stroke-width="0.5"/>
</g>
<path d="M343.5,210 342.5,206.5 344,203 343.5,199.5 344,196.5 346,195.2 350,195 355,195.5 359,195.2 360,192 359,188.5 357.5,185.5 355,184.2 353.5,183.2 356.5,182.2 359.5,181.8 360,180 362.5,180.5 365,178.5 367,177 368.5,176 370.5,175 371.5,172.5 373.5,170.5 376,169.5 377.5,169 379,168 378.5,164 379,161.5 382,160 383,161 382.8,164 383.5,166 385,167 386.5,166.5 389,167 391,168.5 394,167.5 398,166.8 401.5,166.5 403.5,165.5 404.2,164 403.5,162 404,160 406,159.5 407.5,160.5 408.5,159 407,157.5 406.5,156 409,155.5 412.5,155.5 416,155 415.5,153.5 412,153.5 408,154.2 405.5,154.5 403.5,153.5 402,151 401,148.5 401.5,146 404,144 406.5,142.5 407,141 404.5,140.5 402,141 400,143 398.5,145 396,147.5 394.5,149.5 395,152 397,154 397.5,155.5 395.5,157.5 394.5,159.5 393.5,162 392,164 389.5,165.5 387.5,164 386.5,162 385,159.5 383.5,157.5 382.8,156 381.5,157 379,158.5 376,159 373.5,157.5 372.5,154 372,150 374.5,148 378,146 381.5,144 384.5,141 387.5,137.5 390,135 393.5,132.5 397,130.8 401.5,129.5 406,128.8 410,128.8 414,129.5 415,131 414,131.8 418,132.2 423,133.5 429,135 433,137 434,138.5 431,139.5 426,139 422,138.5 420.5,139 424,141 426,143.5 428,144.5 429,143 433,142.5 434,140 437,138.5 438.5,137 437,135 439.5,135 442,136 442.5,138 445,137.5 450,135.5 452,135 458,133.6 464,132 470,133 478,134.4 474,130 473,126 478,125 482,127 484,131 488,136 490,138 489,134 486,130 484,126 490,127 496,124 500,123 498,120.6 506,118.6 514,117.4 520,116 530,117.4 538,119.4 536.4,122 544,123.4 552,124.6 559,123.4 566,124 572,126.6 577,129 579,127 584,128 590,127 585.6,124.6 588,123 594,125.4 602,126.6 612,128.6 620,129.4 628,131.4 636,132 645,132.6 648,134 646,131.4 652,131 660,131.4 665,134 670,137.4 675,140.6 678,143 675.6,143.6 680,146 685.6,148 680,150 677,151.4 676.4,154 671,153 667,154.6 665.6,157 668,160 672,162 674,166 673.6,170 675,176 671,173 667,169 663,165 659,161 658.4,158 661,155 660,151 658,148.6 656,152 650,151 648,153 649,156 644,156.6 639,155 632,156 627,157.4 625,162 624,166 630,168 636,169 639,168.6 641,172 644,176 645.6,181 646.4,187 645,192 640,195 638,198 639.5,198 638,199.5 637.5,201.5 636.5,204 635.5,206.5 636.5,208.5 638.5,209 640.5,210.5 642.5,213 644,215.5 643.8,217.5 641.5,218.5 639,219 637.8,217 636.8,214.5 635.5,212 634,210 632,210.5 630.5,209.5 629.5,207.5 628.5,205.5 627,205 628,205.4 622,207 623,204 620,203 615,207.4 620,211.4 625,210 627,212 622,214 624,218 627,222 630,226 633,230 634,234 633,239 630,244 626,248 620,251 614,253 611,256 609,254 606,253 602,254 603,257 606,260 609,264 612,268 613.6,273 613,277 610,281 606,285 604,286 605,283 603,281 599,279 597,276 594,273 592,275 591,279 591,285 593,289 596,292 599,294 601,298 603,303 603.8,305.6 601.6,305.8 598.8,303.2 596,299.8 593.8,296.2 592.8,293 591.6,291 589.6,288 589,284 590,279 589,275 587,272 585.6,268 584,264 582,266.6 579,267 578,264 576,259 574,255 573,251 572,254 570,251.4 567,251 565,252 561,255 557,259 552,264 548,268 546.4,272 546,279 544,285 541.6,288 538,283 535,277 532,270 530,263 529,257 527,253 525,254.6 522,254 520,250 518,246.6 515.7,245.2 512.4,242.8 512,243.5 508,243 504,243.5 500,243 495,241.8 492,241.2 490.5,240.5 490,239 488.5,238.8 486,239.5 483,239 480,237.5 477.5,236 475.5,234 474,232 472.5,230.5 470,230.8 470,231.5 470.5,233.5 472,235.5 473.5,237.5 475,239.5 476,241.2 477,241.5 478.5,241.2 479,244 479.5,245.5 482,246 484.5,245 486.5,243.5 488,241.5 489.5,240.5 490,241.2 490.5,243.5 492,246 494.5,247.5 496.5,249 498,250.5 497,253 495.5,255.5 494.5,258 492.5,259.5 490,261 488,263 486,264 484,265 482,267 478,269 474,271 471,272.5 467,274 464.5,275 462.5,276.2 461.8,274.5 461,271 460.5,267 460,264.5 458,262 456.5,259.5 455,256.5 453,253.5 451.5,251 450.5,248.5 448.5,245.5 446.5,242.5 445,240 443,237.5 441.2,235.8 440,235 438.5,235.5 438,237 439.5,240 440.8,243 442.2,246 443.5,248.5 445.2,250 446.2,253 447.2,256 448.5,259 450,261.8 450.5,263 452.5,266 454.5,269 457,271.5 459,274 460.5,276.2 461.8,278.5 464,281.2 467,281 473,279.5 480,278.5 479,283 476,290 472,297 467,304 462,310 458,315 460,313 457,317 454,322 453,327 454,332 455.6,337 456,342 455.6,347 452,349 446,352 440,355 439,359 442.4,363 443.6,367 442,371 438,375 435.6,376 436.4,378 434,383 430,389 425,394 419,397 412,398 406,399.6 403.6,398 403.6,394 402,388 400,383 398,378 395.6,370 393,363 390.4,356 389.6,349 391,342 393,335 392.4,329 391.6,323 389,319 385,314 384.4,315 384,309 385,304 383.5,300 382.5,297.5 379,298.5 376,297.5 374,294.8 370,293 365,293.5 360,295.5 356,295 351,296 345,297.8 342,296 338,292.5 334,289 332,285.5 329,282 326.5,279 325,276.5 324,274 322.8,270 324.5,267 325.5,263 325,258 324.5,253 326,249 329,244 333,238 336,234 341,230 343.6,225 346,221 350,218 354,216 360,215 368,213.4 376,212.6 382,212 386,213 387,219 389,223 395,224 402,226.6 406,228.6 409,225 414,224 418,226 424,227 430,226 436,225 439.6,224.6 440,221 440.5,223.5 441,220.5 441.2,217 440.8,214 439,212.8 435,213.5 431,213 428,214.5 425,213.5 421.5,211.5 420,209.5 419,207 419.5,204.5 419,203.5 416.5,202.8 414,203.5 411.5,204.5 412.5,206.5 411,207 412,209 413.5,210.5 412,211 412.5,213.5 411,214 409,211.5 407.5,209 406.2,206.5 406,204.5 404.5,203.5 404,201 403,198.5 400,196.8 397.5,195 395.5,193.5 394,192 392.5,190 390.5,189 389,190 389.5,192 391,194 393.5,196.5 396,199 399,201 401.5,203 402,204 400,204 398.5,203.5 398,205.5 399,207.5 397.5,209.5 396.5,208 396.8,206 395,203 392.5,200.5 389.5,198.5 387,196.5 385,194 383,193 380.5,194 378.5,194.5 376,196 373.5,196 370,197 369,198.5 368.5,200 366,202 363.5,204 362.5,206.5 361.5,209 359,211 357.5,212.5 354,213 351,214.5 349.5,212.5 347,211.8 344.5,212.2Z M421.5,198 422.5,195 424,192 425.5,189.5 427,188.2 429,188.8 431,190 432.5,191.5 433.5,192.8 436,192 439,191.2 440.5,190.2 439,190 436.5,190.2 435.2,189.5 435,188.5 437,187.2 440,186.8 441.5,187.5 441,189.5 443,191.8 445,193.5 447,195.5 449,197.5 450,199.5 449.5,201 447,201.5 444,201 441,200 438,199.5 435,199.2 432,199.5 429,200.5 426,201.2 423.5,200.8 422,199.5Z M460,192 461.5,189.5 465,187.5 469,187 472,188.5 471,190.5 468.5,191.5 467.5,193.5 469.5,196 472,198 474.5,199.5 476,199 478,201 478.5,205 478.8,209 478,211.5 475,212 471.5,210.5 469,208 468.5,204.5 467.5,202 465,200 463,197 461,194.5Z" fill="none" stroke="#7d6868" stroke-width="0.5" stroke-linejoin="round"/>
<g clip-path="url(#c2)">
<path fill-rule="evenodd" d="M614.4,306 615.6,304 620,301 626,298 630,293 633,291 637,295 635,298.4 635,304 637,307 634,310 633,314 630,319 627,318 622,317.6 617,316 615,311Z" fill="#d4ba6c"/>
<path d="M612,305 615,302 620,299 626,296 629,291 639,289 639,296 635,298.8 630,299.4 628,302.4 623,306 619.6,307 616.4,306.6Z" fill="#e89593" stroke="#7d6868" stroke-width="0.5"/>
</g>
<path d="M614.4,306 615.6,304 620,301 626,298 630,293 633,291 637,295 635,298.4 635,304 637,307 634,310 633,314 630,319 627,318 622,317.6 617,316 615,311Z" fill="none" stroke="#7d6868" stroke-width="0.5" stroke-linejoin="round"/>
<g clip-path="url(#c3)">
<path fill-rule="evenodd" d="M664.4,311 670,310 673,313 672,315 676,315.6 680,313 688,315 695,319 701,323 703.6,326 703,329 707,334 709,336.4 704,335 700,332 694,331 688,333 684,331 679.6,330 680.4,327 677,324 674,321.6 671,320 669,317 668,314 665,313Z" fill="#d4ba6c"/>
<path d="M688,314 687,334" fill="none" stroke="#7d6868" stroke-width="0.5"/>
</g>
<path d="M664.4,311 670,310 673,313 672,315 676,315.6 680,313 688,315 695,319 701,323 703.6,326 703,329 707,334 709,336.4 704,335 700,332 694,331 688,333 684,331 679.6,330 680.4,327 677,324 674,321.6 671,320 669,317 668,314 665,313Z" fill="none" stroke="#7d6868" stroke-width="0.5" stroke-linejoin="round"/>
<path d="M47.6,142.4 60,134 63,137.6 68,138.6 67,140.6 60,142.6 57,144 52,140.6Z" fill="#e89593" stroke="#7d6868" stroke-width="0.5" stroke-linejoin="round"/>
<path d="M67.6,128.6 72.4,127.6 73,129 69,129.6Z" fill="#e89593" stroke="#7d6868" stroke-width="0.5" stroke-linejoin="round"/>
<path d="M57,145.4 61.6,146 61,147 57.6,146.6Z" fill="#e89593" stroke="#7d6868" stroke-width="0.5" stroke-linejoin="round"/>
<path d="M55,153.4 59,153.4 59,154.6 55.6,154.6Z" fill="#e89593" stroke="#7d6868" stroke-width="0.5" stroke-linejoin="round"/>
<path d="M103,169 106.4,168 105.6,172 103.6,173.4Z" fill="#e89593" stroke="#7d6868" stroke-width="0.5" stroke-linejoin="round"/>
<path d="M159.6,127 168,123 180,122 174,125 182,125 190,124.6 196,123.6 196.7,123.3 194.7,126 193.3,128.7 195.3,131.3 200,131.3 202,133.3 196.7,134.1 190,133.6 186,134.7 178,135.2 170,133.6 170,133 168,130.6 174,129 168,128 162,128.6Z" fill="#e89593" stroke="#7d6868" stroke-width="0.5" stroke-linejoin="round"/>
<path d="M175.3,118 182,116 189.3,115.3 188.7,116.7 183.3,118.4 178,118.9Z" fill="#e89593" stroke="#7d6868" stroke-width="0.5" stroke-linejoin="round"/>
<path d="M181.3,119.7 186,118.7 192.7,118 198.7,117.3 200,119.3 196.7,120.7 190,121.3 184.7,121.3Z" fill="#e89593" stroke="#7d6868" stroke-width="0.5" stroke-linejoin="round"/>
<path d="M194,114.4 201.3,113.1 202,114 196.7,115.7Z" fill="#e89593" stroke="#7d6868" stroke-width="0.5" stroke-linejoin="round"/>
<path d="M208,113.1 212.7,112.3 216,113.3 214.7,114.7 209.3,114.4Z" fill="#e89593" stroke="#7d6868" stroke-width="0.5" stroke-linejoin="round"/>
<path d="M217.3,113.6 221.3,113.1 222.7,114.7 218.7,115.3Z" fill="#e89593" stroke="#7d6868" stroke-width="0.5" stroke-linejoin="round"/>
<path d="M205.3,118.7 210,117.3 214,117.6 213.3,119.7 208.7,120.7Z" fill="#e89593" stroke="#7d6868" stroke-width="0.5" stroke-linejoin="round"/>
<path d="M213.3,120 217.3,119.3 218,121.3 214.7,121.6Z" fill="#e89593" stroke="#7d6868" stroke-width="0.5" stroke-linejoin="round"/>
<path d="M216.7,116.7 221.3,116.3 224.7,118 234,118.7 239.3,119.7 238,121.1 228.7,121.6 221.3,121.3 219.3,118.7Z" fill="#e89593" stroke="#7d6868" stroke-width="0.5" stroke-linejoin="round"/>
<path d="M224.4,110.4 230,109.1 236.7,108.7 244.7,106.9 255.3,106 268.7,105.6 278,106.4 275.3,107.3 268.7,108.7 262,109.6 255.3,111.3 250,113.3 244.7,114.7 244,116.7 239.3,118 234,117.6 227.3,117.3 231.3,115.7 236.7,114 234,112.7 228.7,114 225.3,113.3Z" fill="#e89593" stroke="#7d6868" stroke-width="0.5" stroke-linejoin="round"/>
<path d="M198.7,125.3 203.3,123.3 208.7,122.9 206,126 202.7,128 200,127.3Z" fill="#e89593" stroke="#7d6868" stroke-width="0.5" stroke-linejoin="round"/>
<path d="M210,124.7 215.3,122.7 219.3,123.3 215.3,126 211.3,127.3Z" fill="#e89593" stroke="#7d6868" stroke-width="0.5" stroke-linejoin="round"/>
<path d="M216.7,127.7 220.7,125.3 226,124 232.7,123.7 236.7,125.6 240.7,126 243.3,128.3 248,130.4 250.7,132 251.1,135.3 256.7,138.7 252.9,141.1 250,142.4 247.1,141.1 247.6,144.7 246,147.3 243.3,149.1 240,147.3 236,146 232,144.7 226.7,144 224.9,142.9 228.7,141.6 234,141.1 237.3,139.3 238.7,136.7 237.3,134 233.3,132 228.7,131.3 223.3,130.9 218.7,130.4Z" fill="#e89593" stroke="#7d6868" stroke-width="0.5" stroke-linejoin="round"/>
<path d="M208.7,144.7 212.7,141.3 216,143.3 220,145.3 216.7,146.7 212.7,146Z" fill="#e89593" stroke="#7d6868" stroke-width="0.5" stroke-linejoin="round"/>
<path d="M211.3,147.7 215.3,146.7 216,148 212.7,149.1Z" fill="#e89593" stroke="#7d6868" stroke-width="0.5" stroke-linejoin="round"/>
<path d="M242.5,184.5 245,181.5 248,178 250.5,175.5 253,175 252,178 254,180 256,182.5 256,185.5 254,187.5 252.5,185.5 250.5,186.5 249,186 247,185 244.5,185Z" fill="#e89593" stroke="#7d6868" stroke-width="0.5" stroke-linejoin="round"/>
<path d="M234,179.2 237,179.6 238.5,181 236,180.8Z" fill="#e89593" stroke="#7d6868" stroke-width="0.5" stroke-linejoin="round"/>
<path d="M254,114 259,112.6 270,109 277.6,107.4 300,106 318,105 334,106 345,108.6 338,110.6 334,114 335,117 330,121 328,125 326,130 318,134 310,136 302,140 294,145 288,149 284,153 281,154 276,152 273,148 271,143 270.4,138 274,134 273,130 276,125 272,120 266,118 257,117.4Z" fill="url(#hatch)" stroke="#c9c9c9" stroke-width="0.5" stroke-linejoin="round"/>
<path d="M321,140.6 328,139.4 337,139.4 339,142 335,144.6 328,145.6 323,144Z" fill="#e89593" stroke="#7d6868" stroke-width="0.5" stroke-linejoin="round"/>
<path d="M171,251 176,248.4 184,249.6 190,252.4 194,255.6 198,257 194,257.6 189,255 184,253 178,251.6 173,252.4Z" fill="url(#hatch)" stroke="#c9c9c9" stroke-width="0.5" stroke-linejoin="round"/>
<path d="M185,261 189,260.6 189.6,262.4 186,262.6Z" fill="#e89593" stroke="#7d6868" stroke-width="0.5" stroke-linejoin="round"/>
<path d="M194,260 197,258 200,257.6 200.4,261.6 198,262 194,261.6Z" fill="#d4ba6c" stroke="#7d6868" stroke-width="0.5" stroke-linejoin="round"/>
<path d="M200,257.6 205,258 208,260.4 204,262 200.4,261.6Z" fill="#e89593" stroke="#7d6868" stroke-width="0.5" stroke-linejoin="round"/>
<path d="M210,260.4 214,260.4 214,262 210,262Z" fill="url(#hatch)" stroke="#c9c9c9" stroke-width="0.5" stroke-linejoin="round"/>
<path d="M186.4,239 190,238.4 190.6,240 188,240.6Z" fill="#e89593" stroke="#7d6868" stroke-width="0.5" stroke-linejoin="round"/>
<path d="M186.6,243 188.4,243.6 189,247 187.4,246.4Z" fill="#e89593" stroke="#7d6868" stroke-width="0.5" stroke-linejoin="round"/>
<path d="M219.6,280.6 223,280 223,282.4 220,282.8Z" fill="url(#hatch)" stroke="#c9c9c9" stroke-width="0.5" stroke-linejoin="round"/>
<path d="M351.5,178.5 355,177 357.5,176 356.5,174 354,174.5 353,173 355.5,171.5 354,169.5 355,167.5 353,165.5 352,163 353.5,160.5 356.5,160 359,161 358.5,163.5 357.5,165 360,167 362,169.5 363.5,171.5 366,172.5 365.5,174.5 363.5,176 360,176.5 356.5,177.2Z" fill="#e89593" stroke="#7d6868" stroke-width="0.5" stroke-linejoin="round"/>
<path d="M343.5,174.5 344.5,171 345.5,168.5 347.5,166.5 350,166 351.5,167.5 351.5,170 350,172.5 347,174Z" fill="#e89593" stroke="#7d6868" stroke-width="0.5" stroke-linejoin="round"/>
<path d="M378,112.4 384,111 390,110 401,110.4 401.6,112 396,113 399,115 394,115.6 388,117 383,115Z" fill="#e89593" stroke="#7d6868" stroke-width="0.5" stroke-linejoin="round"/>
<path d="M427,109.6 435,109 435.6,110.4 430,111Z" fill="#e89593" stroke="#7d6868" stroke-width="0.5" stroke-linejoin="round"/>
<path d="M447,127 449,121 458,118 467,117 467.6,118.4 460,120 455,123 454,127 457,129 450,129.6Z" fill="#e89593" stroke="#7d6868" stroke-width="0.5" stroke-linejoin="round"/>
<path d="M493,110 498,108.6 508,111.4 509,113.4 502,113.4 495,112Z" fill="#e89593" stroke="#7d6868" stroke-width="0.5" stroke-linejoin="round"/>
<path d="M510,113 517,114 517.6,115 511,114.6Z" fill="#e89593" stroke="#7d6868" stroke-width="0.5" stroke-linejoin="round"/>
<path d="M574,119 579,118 588,120 584,121.4 577,121Z" fill="#e89593" stroke="#7d6868" stroke-width="0.5" stroke-linejoin="round"/>
<path d="M589,119.4 596,120.2 596.4,121.4 590,121Z" fill="#e89593" stroke="#7d6868" stroke-width="0.5" stroke-linejoin="round"/>
<path d="M655,128 659,129 658,130Z" fill="#e89593" stroke="#7d6868" stroke-width="0.5" stroke-linejoin="round"/>
<path d="M655.6,128 658,129 657,130Z" fill="#e89593" stroke="#7d6868" stroke-width="0.5" stroke-linejoin="round"/>
<path d="M639.6,168.6 643,172 647,176 651,180 655,183 657.6,188.6 655.6,188 652,184 648,180 644,175 640,171Z" fill="#e89593" stroke="#7d6868" stroke-width="0.5" stroke-linejoin="round"/>
<path d="M381.2,197.5 382.2,196.8 382.8,198.5 382.5,200.5 381.5,200.8Z" fill="#e89593" stroke="#7d6868" stroke-width="0.5" stroke-linejoin="round"/>
<path d="M380.5,202.5 383,202 383.5,204.5 383,206.8 381.2,207 380.8,205Z" fill="#e89593" stroke="#7d6868" stroke-width="0.5" stroke-linejoin="round"/>
<path d="M389.8,210 392.5,209.5 395.8,209.2 395.5,211 394.5,213 392,212 390,211.2Z" fill="#e89593" stroke="#7d6868" stroke-width="0.5" stroke-linejoin="round"/>
<path d="M386,160 394,160 393.5,163 391,165 388.5,164.5 387,162.5Z" fill="#e89593" stroke="#7d6868" stroke-width="0.5" stroke-linejoin="round"/>
<path d="M384,164 386.5,164.2 386.2,166.5 384.5,166Z" fill="#e89593" stroke="#7d6868" stroke-width="0.5" stroke-linejoin="round"/>
<path d="M414,216 416.5,216.2 419.8,216.8 419.5,217.7 416.5,217.5 414.2,217Z" fill="#e89593" stroke="#7d6868" stroke-width="0.5" stroke-linejoin="round"/>
<path d="M433,217 435,216.2 437.5,215.8 436.5,217.5 434.5,218.5Z" fill="#e89593" stroke="#7d6868" stroke-width="0.5" stroke-linejoin="round"/>
<path d="M655.5,190.5 657.5,192 660,193.5 663,194 664.5,193 667,195.5 665,197 664,199.5 661.5,198.5 659.5,200.5 657.5,199.5 656,197.5 656.8,195Z" fill="#d4ba6c" stroke="#7d6868" stroke-width="0.5" stroke-linejoin="round"/>
<path d="M659.5,201.5 662,202 664,204.5 665.5,207.5 666,211 667,213.5 668,215.5 667,217.8 664.5,218.5 662,219.5 660,221.2 658.5,220 656.5,221.5 655,223 653.5,222 652,223.5 652.5,226 651.5,227.8 650,226.5 649,224.5 646.5,222.5 648.5,220 650.5,217.5 653,216.2 656,215.8 657.5,214.5 657.5,211.8 659.5,212.5 661,210 661.2,206.5 660,204Z" fill="#d4ba6c" stroke="#7d6868" stroke-width="0.5" stroke-linejoin="round"/>
<path d="M633.6,245 635.6,243 637,247 635.6,251.4 633.6,249Z" fill="#e89593" stroke="#7d6868" stroke-width="0.5" stroke-linejoin="round"/>
<path d="M610,257 613,256 615,258.6 612.4,261 609.6,260Z" fill="#e89593" stroke="#7d6868" stroke-width="0.5" stroke-linejoin="round"/>
<path d="M546.4,283.4 549,284 551,289 549.6,293 547,292 545.6,287.4Z" fill="#31bfcb" stroke="#7d6868" stroke-width="0.5" stroke-linejoin="round"/>
<path d="M637.3,261.3 639.4,260.3 641.3,262 641.6,265.5 640.4,269.1 641.6,271.2 644.4,271.9 646.5,273.3 648.7,275.5 651.5,278.3 650.8,279.7 647.9,278.3 645.8,276.9 643.7,275.5 641.6,274 640.9,276.2 639.4,275.5 638.7,272.6 637,269.8 636.2,266.2 636.6,263.4Z" fill="#d4ba6c" stroke="#7d6868" stroke-width="0.5" stroke-linejoin="round"/>
<path d="M639.4,274.3 641.3,275 640.9,277.2 639.4,276.4Z" fill="#d4ba6c" stroke="#7d6868" stroke-width="0.5" stroke-linejoin="round"/>
<path d="M642.7,278.3 645.1,278.7 647.2,280.4 646.5,283.2 645.1,284.7 644.1,282.5 643,280.4Z" fill="#d4ba6c" stroke="#7d6868" stroke-width="0.5" stroke-linejoin="round"/>
<path d="M647,279 648.9,279.7 650.4,282.1 648.7,283 647.5,281.1Z" fill="#d4ba6c" stroke="#7d6868" stroke-width="0.5" stroke-linejoin="round"/>
<path d="M643.3,289.6 645.8,288.2 648.7,286.1 650.8,284.4 652.6,285.4 653.6,288.9 652.9,292.5 651.5,294.3 649.4,292.5 647.9,290.3 645.8,290.6 644.1,290.6Z" fill="#d4ba6c" stroke="#7d6868" stroke-width="0.5" stroke-linejoin="round"/>
<path d="M632.4,286.8 635.2,282.5 637.3,279.7 638,280.4 635.9,284 633.1,287.2Z" fill="#d4ba6c" stroke="#7d6868" stroke-width="0.5" stroke-linejoin="round"/>
<path d="M582.4,295.6 587,294.4 592,300 599,308 605,314 607.6,319 607,324 604,323 598,317 593,309 588,302Z" fill="#d4ba6c" stroke="#7d6868" stroke-width="0.5" stroke-linejoin="round"/>
<path d="M606,325.6 610,324.4 618,326.4 624,328.4 628.4,330 627,331.6 620,330.4 612,329 607,328Z" fill="#d4ba6c" stroke="#7d6868" stroke-width="0.5" stroke-linejoin="round"/>
<path d="M631.6,331 636,330.4 636.4,332 632.4,332.4Z" fill="#d4ba6c" stroke="#7d6868" stroke-width="0.5" stroke-linejoin="round"/>
<path d="M639,331 645,330 645.6,331.6 640,332.4Z" fill="#d4ba6c" stroke="#7d6868" stroke-width="0.5" stroke-linejoin="round"/>
<path d="M637,333.6 640,334.4 639.6,335.6 637,335Z" fill="#d4ba6c" stroke="#7d6868" stroke-width="0.5" stroke-linejoin="round"/>
<path d="M646,334 650,331.6 655.6,330.4 655,332.4 650,335 647,335.6Z" fill="#d4ba6c" stroke="#7d6868" stroke-width="0.5" stroke-linejoin="round"/>
<path d="M638,314 640,309 645,306.4 651,304.4 652,306.4 647,308.4 643,310.4 647,311 645,313 643,315 645,319 646.4,323 644,322.4 642,318 640.4,320 641,323.6 638.4,323 637.6,319Z" fill="#d4ba6c" stroke="#7d6868" stroke-width="0.5" stroke-linejoin="round"/>
<path d="M657,304 659,303.6 659.6,309 658,311 657,308Z" fill="#d4ba6c" stroke="#7d6868" stroke-width="0.5" stroke-linejoin="round"/>
<path d="M653.6,317 658,316 664,317 664.4,318.6 659,318 654,318.4Z" fill="#d4ba6c" stroke="#7d6868" stroke-width="0.5" stroke-linejoin="round"/>
<path d="M671.6,323 673,323.6 672.4,327 671.2,326Z" fill="#d4ba6c" stroke="#7d6868" stroke-width="0.5" stroke-linejoin="round"/>
<path d="M703.6,323 709,322 713,319.6 711,316 713.6,315.6 716,320 714,324 709,325.6 704.4,324.4Z" fill="#d4ba6c" stroke="#7d6868" stroke-width="0.5" stroke-linejoin="round"/>
<path d="M719,322.4 721,324 722.4,327 720.4,326Z" fill="#d4ba6c" stroke="#7d6868" stroke-width="0.5" stroke-linejoin="round"/>
<path d="M724,327 728,329 727.6,330 724.4,328.4Z" fill="#d4ba6c" stroke="#7d6868" stroke-width="0.5" stroke-linejoin="round"/>
<path d="M729,330 733,332.4 732.4,333.6 729.6,331.6Z" fill="#d4ba6c" stroke="#7d6868" stroke-width="0.5" stroke-linejoin="round"/>
<path d="M732,334.4 735,336 734.4,337.2Z" fill="#d4ba6c" stroke="#7d6868" stroke-width="0.5" stroke-linejoin="round"/>
<path d="M615,398 617,394 618,388 617,378 618,372 620,367 628,363 636,360 643,354 647,349 652,346 657,347 660,343 666,338 670,340 676,341 674,347 679,351 683.6,355 686,350 687.6,343 689.6,337.6 692,344 695,350 696,356 701,364 703,370 706,375 706,375 705,382 702,389 698,396 693,403 688,408 685,407 680,409 676,411 672,409 666,408 664,404 665,400 662,401 664,397 660,400 658,397 654,393 646,392 636,394 626,398 618,400.4Z" fill="#e89593" stroke="#7d6868" stroke-width="0.5" stroke-linejoin="round"/>
<path d="M669,416 677,415 676,418.4 672,422 667.6,422.4 668,419Z" fill="#e89593" stroke="#7d6868" stroke-width="0.5" stroke-linejoin="round"/>
<path d="M739,399 741,400 741.6,404 744,408 747,407.6 744,411 740,414 736,417 732.4,417.6 733,414 736,410 739,407 739.6,403Z" fill="#e89593" stroke="#7d6868" stroke-width="0.5" stroke-linejoin="round"/>
<path d="M705,428 709,425 716,422 723,418 729,415 731,417 726,421 719,425 713,429 708,431 705.6,430Z" fill="#e89593" stroke="#7d6868" stroke-width="0.5" stroke-linejoin="round"/>
<path d="M734.4,361.6 736,361 740,366 739,367.6 736,365Z" fill="#e89593" stroke="#7d6868" stroke-width="0.5" stroke-linejoin="round"/>
<path d="M743,347.6 744.4,347.6 745,352 743.6,351Z" fill="#d4ba6c" stroke="#7d6868" stroke-width="0.5" stroke-linejoin="round"/>
<path d="M766,354.4 769,354 769.6,356.4 766.4,356.8Z" fill="#e89593" stroke="#7d6868" stroke-width="0.5" stroke-linejoin="round"/>
<path d="M770,352 773.6,351 773.6,352.4 770.4,353.2Z" fill="#e89593" stroke="#7d6868" stroke-width="0.5" stroke-linejoin="round"/>
<path d="M461,367 463,358 465,351 470,348 473.6,344 476,341 478,344 477.6,350 475,358 472,366 469,373 465,376 461.6,374Z" fill="#31bfcb" stroke="#7d6868" stroke-width="0.5" stroke-linejoin="round"/>
<path d="M8.9,256.4 11,255.9 12,257.8 9.6,259.8Z" fill="#e89593" stroke="#7d6868" stroke-width="0.5" stroke-linejoin="round"/>
<path d="M5.1,252.1 6.5,252.5 6.2,253.4 5,252.8Z" fill="#e89593" stroke="#7d6868" stroke-width="0.5" stroke-linejoin="round"/>
<path d="M7.1,253.3 8.8,254.1 8.5,255 7.1,254.2Z" fill="#e89593" stroke="#7d6868" stroke-width="0.5" stroke-linejoin="round"/>
<path d="M2,250.7 3.4,251 3.1,251.7 2,251.4Z" fill="#e89593" stroke="#7d6868" stroke-width="0.5" stroke-linejoin="round"/>
<g>
<rect x="287.5" y="496.5" width="48" height="12" fill="url(#hatch)" stroke="#cdcdcd" stroke-width="1"/>
<rect x="355" y="496.8" width="69" height="11.6" fill="#31bfcb"/><rect x="424" y="496.8" width="69" height="11.6" fill="#d4ba6c"/><rect x="493" y="496.8" width="69.5" height="11.6" fill="#e89593"/>
<rect x="355" y="496.8" width="207.5" height="11.6" fill="none" stroke="#8f8f8f" stroke-width="0.6"/>
<path d="M424,496.8V508.4M493,496.8V508.4" stroke="#8f8f8f" stroke-width="0.6"/>
<path d="M311.5,493.5V496.5M389.5,493.5V496.5M458.5,493.5V496.5M527.5,493.5V496.5" stroke="#bbb" stroke-width="1"/>
</g></svg>
<div class="abs leg" style="left:311.5px;top:478.7px;transform:translateX(-50%) scaleX(1.017);">No data</div>
<div class="abs leg" style="left:389.5px;top:478.7px;transform:translateX(-50%) scaleX(1.017);">Below 40g</div>
<div class="abs leg" style="left:458.5px;top:478.7px;transform:translateX(-50%) scaleX(1.069);">40-165g</div>
<div class="abs leg" style="left:527.5px;top:478.7px;transform:translateX(-50%) scaleX(1.035);">Over 165g</div>
<div class="abs foot" style="top:528.5px;"><b>Data source:</b> Food and Agriculture Organization of the United Nations (2025)</div>
<div class="abs foot" style="top:548.6px;"><b>Note:</b> Data shows per capita meat supply, which does not subtract consumer waste. Actual meat consumption will be lower than these figures.</div>
<div class="abs foot" style="top:568.8px;letter-spacing:0.1px;">OurWorldinData.org/antibiotic-resistance-from-livestock | CC BY</div>
</body>
</html>
